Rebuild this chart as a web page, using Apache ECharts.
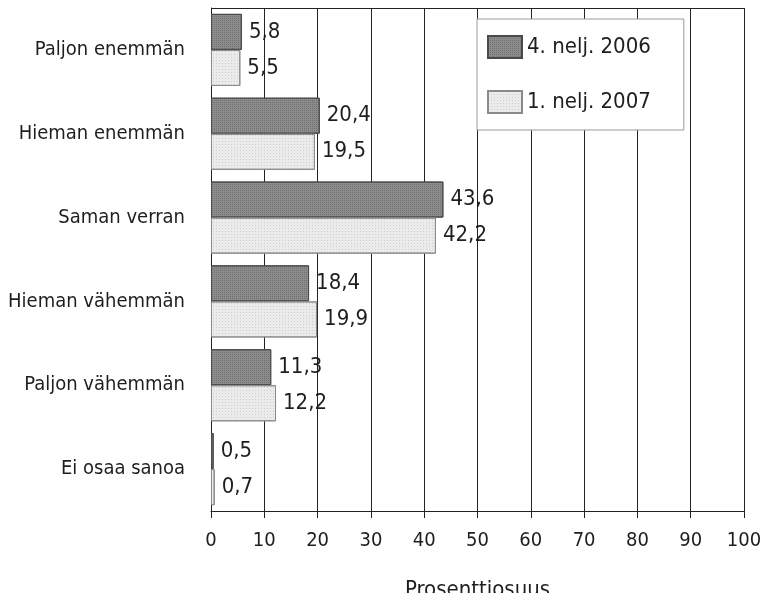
<!DOCTYPE html>
<html>
<head>
<meta charset="utf-8">
<script src="https://cdn.jsdelivr.net/npm/echarts@6/dist/echarts.min.js"></script>
<style>
  html, body { margin: 0; padding: 0; background: #fff; }
  #chart { width: 763px; height: 593px; }
</style>
</head>
<body>
<div id="chart"></div>
<script>
// Vastausvaihtoehdot ylhäältä alas
const categories = ['Paljon enemmän', 'Hieman enemmän', 'Saman verran', 'Hieman vähemmän', 'Paljon vähemmän', 'Ei osaa sanoa'];
const seriesNames = ['4. nelj. 2006', '1. nelj. 2007'];
const values2006 = [5.8, 20.4, 43.6, 18.4, 11.3, 0.5];
const values2007 = [5.5, 19.5, 42.2, 19.9, 12.2, 0.7];
const xTicks = [0, 10, 20, 30, 40, 50, 60, 70, 80, 90, 100];

const FONT = '"DejaVu Sans Condensed", "Liberation Sans Narrow", sans-serif';
const TEXT = '#1e1e1e';

const fmt = p => String(p.value).replace('.', ',');

const chart = echarts.init(document.getElementById('chart'), null, { renderer: 'canvas' });

const barLabel = {
  show: true,
  position: 'right',
  distance: 7,
  formatter: fmt,
  fontFamily: FONT,
  fontSize: 22,
  color: TEXT
};

chart.setOption({
  animation: false,
  backgroundColor: '#ffffff',
  grid: { left: 211, right: 19, top: 8, bottom: 82, show: false, containLabel: false, outerBoundsMode: 'none' },
  legend: {
    orient: 'vertical',
    left: 477,
    top: 19,
    padding: [16, 33, 16, 10],
    itemGap: 31,
    itemWidth: 34,
    itemHeight: 22,
    icon: 'rect',
    backgroundColor: '#ffffff',
    borderColor: '#9a9a9a',
    borderWidth: 1,
    textStyle: { fontFamily: FONT, fontSize: 22, color: TEXT, padding: [0, 0, 0, 0] },
    data: seriesNames
  },
  xAxis: {
    type: 'value',
    min: xTicks[0],
    max: xTicks[xTicks.length - 1],
    interval: 10,
    name: 'Prosenttiosuus',
    nameLocation: 'middle',
    nameGap: 68,
    nameTextStyle: { fontFamily: FONT, fontSize: 22, color: TEXT },
    axisLine: { show: true, lineStyle: { color: '#222', width: 1 } },
    axisTick: { show: true, length: 7, lineStyle: { color: '#222' } },
    axisLabel: { margin: 20, fontFamily: FONT, fontSize: 20, color: TEXT },
    splitLine: { show: true, lineStyle: { color: '#222', width: 1 } }
  },
  yAxis: {
    type: 'category',
    inverse: true,
    data: categories,
    axisLine: { show: true, lineStyle: { color: '#222', width: 1 } },
    axisTick: { show: false },
    axisLabel: { margin: 26, fontFamily: FONT, fontSize: 20, color: TEXT }
  },
  series: [
    {
      name: seriesNames[0],
      type: 'bar',
      data: values2006,
      barGap: '0%',
      barCategoryGap: '14%',
      itemStyle: {
        color: '#8c8c8c', borderColor: '#4a4a4a', borderWidth: 1,
        decal: { symbol: 'rect', symbolSize: 1, dashArrayX: [1, 1], dashArrayY: [1, 1], color: 'rgba(60,60,60,0.35)' }
      },
      label: barLabel
    },
    {
      name: seriesNames[1],
      type: 'bar',
      data: values2007,
      itemStyle: {
        color: '#ebebeb', borderColor: '#8a8a8a', borderWidth: 1,
        decal: { symbol: 'rect', symbolSize: 1, dashArrayX: [1, 2], dashArrayY: [1, 2], color: 'rgba(150,150,150,0.35)' }
      },
      label: barLabel
    }
  ],
  graphic: [
    {
      // kehyksen yläreuna
      type: 'line',
      shape: { x1: 211, y1: 8.5, x2: 744, y2: 8.5 },
      style: { stroke: '#222', lineWidth: 1 },
      z: 1
    }
  ]
});
</script>
</body>
</html>
